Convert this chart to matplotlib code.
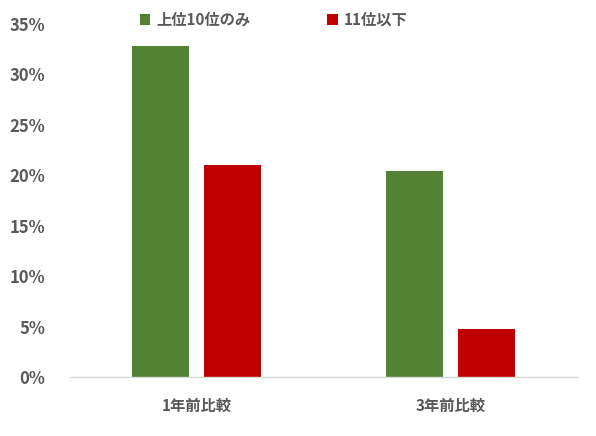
import numpy as np
import matplotlib.pyplot as plt
from matplotlib.ticker import PercentFormatter

plt.rcParams['font.family'] = ['Noto Sans CJK JP', 'DejaVu Sans']

categories = ['1年前比較', '3年前比較']
top10 = [32.8, 20.4]
rest = [21.0, 4.8]
series_names = ['上位10位のみ', '11位以下']

green = '#548235'
red = '#C00000'
text_c = '#595959'

fig = plt.figure(figsize=(5.96, 4.36), dpi=100)
ax = fig.add_axes([69.5 / 596, 1 - 377 / 436, 508 / 596, 353 / 436])

x = np.arange(len(categories))
w = 0.224
ax.bar(x - 0.142, top10, w, color=green, label=series_names[0])
ax.bar(x + 0.142, rest, w, color=red, label=series_names[1])

ax.set_xlim(-0.5, 1.5)
ax.set_ylim(0, 35)
ax.set_yticks(np.arange(0, 36, 5))
ax.yaxis.set_major_formatter(PercentFormatter(decimals=0))
ax.set_xticks(x)
ax.set_xticklabels(categories)

for s in ['left', 'right', 'top']:
    ax.spines[s].set_visible(False)
ax.spines['bottom'].set_color('#D9D9D9')
ax.spines['bottom'].set_linewidth(1)
ax.tick_params(axis='both', length=0, labelsize=11, labelcolor=text_c)
ax.tick_params(axis='y', pad=17.5, labelsize=12)
ax.tick_params(axis='x', pad=15)
for lbl in ax.get_xticklabels() + ax.get_yticklabels():
    lbl.set_fontweight('bold')

leg = ax.legend(loc='center left', bbox_to_anchor=(126 / 596, 1 - 20 / 436),
                bbox_transform=fig.transFigure, ncol=2, frameon=False,
                handlelength=0.7, handleheight=0.7, handletextpad=0.4,
                columnspacing=5.0, prop={'size': 11, 'weight': 'bold'})
for t in leg.get_texts():
    t.set_color(text_c)

fig.savefig('out.png', dpi=100)
